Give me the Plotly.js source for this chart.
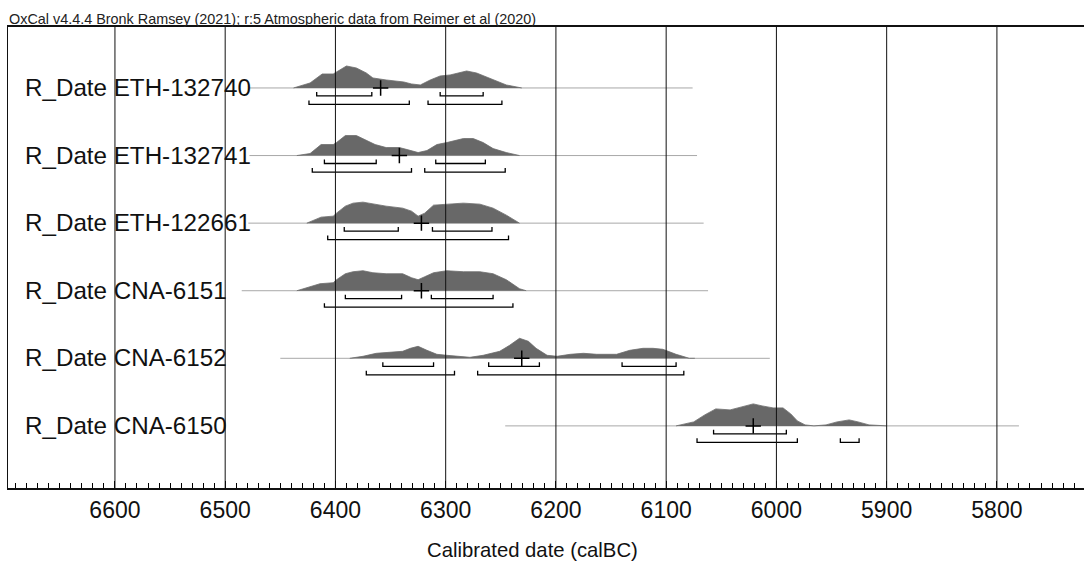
<!DOCTYPE html>
<html><head><meta charset="utf-8">
<script src="https://cdn.plot.ly/plotly-3.0.1.min.js"></script>
<style>html,body{margin:0;padding:0;background:#fff}#chart{width:1084px;height:562px}</style>
</head><body><div id="chart"></div>
<script>
// ---------- data ----------
const headerText = "OxCal v4.4.4 Bronk Ramsey (2021); r:5 Atmospheric data from Reimer et al (2020)";
const axisTitle = "Calibrated date (calBC)";
const sampleNames = ["R_Date ETH-132740", "R_Date ETH-132741", "R_Date ETH-122661",
                     "R_Date CNA-6151", "R_Date CNA-6152", "R_Date CNA-6150"];
const yearTicks = [6600, 6500, 6400, 6300, 6200, 6100, 6000, 5900, 5800];
const yearRange = [6697, 5721];

// median cross (calBC)
const medians = [6359, 6342, 6322, 6322, 6231, 6021];
// extent of the thin likelihood line
const lineFrom = [6478, 6478, 6479, 6485, 6450, 6246];
const lineTo   = [6076, 6072, 6066, 6062, 6006, 5780];
// 68.2% and 95.4% ranges
const range68 = [
  [[6417, 6367], [6305, 6266]],
  [[6410, 6363], [6309, 6264]],
  [[6392, 6343], [6312, 6258]],
  [[6391, 6340], [6313, 6257]],
  [[6357, 6311], [6261, 6215], [6140, 6091]],
  [[6057, 5991]]
];
const range95 = [
  [[6424, 6333], [6316, 6249]],
  [[6421, 6331], [6319, 6246]],
  [[6407, 6243]],
  [[6410, 6239]],
  [[6372, 6292], [6271, 6084]],
  [[6072, 5981], [5942, 5925]]
];

// calibrated probability distributions (relative)
const eth132740Years = [6438,6423,6412,6402,6390,6381,6372,6366,6354,6338,6331,6323,6314,6305,6296,6281,6272,6257,6245,6231];
const eth132740Prob  = [0,5,14,14,22,20,15,10,8,6,4,3,8,12,13,17,15,8,3,0];
const eth132741Years = [6435,6423,6413,6402,6399,6391,6381,6372,6364,6354,6342,6335,6325,6317,6308,6299,6284,6275,6266,6257,6245,6233];
const eth132741Prob  = [0,2,11,11,13,20,20,15,11,8,8,6,3,5,11,13,17,17,13,7,3,0];
const eth122661Years = [6426,6413,6402,6399,6391,6384,6375,6366,6354,6339,6331,6325,6319,6311,6299,6284,6269,6257,6245,6233];
const eth122661Prob  = [0,6,7,10,17,20,21,19,17,15,12,7,10,18,19,20,19,15,8,0];
const cna6151Years = [6435,6423,6414,6402,6399,6391,6384,6375,6366,6354,6339,6331,6325,6319,6311,6299,6284,6269,6257,6245,6233,6227];
const cna6151Prob  = [0,4,7,8,11,17,19,20,18,17,17,13,11,14,18,20,19,19,17,11,2,0];
const cna6152Years = [6387,6375,6363,6345,6339,6332,6325,6317,6308,6299,6290,6278,6266,6251,6242,6233,6225,6218,6208,6199,6187,6175,6163,6145,6133,6121,6112,6103,6091,6079,6074];
const cna6152Prob  = [0,2,5,6,7,10,12,8,4,3,2,1,3,7,13,20,17,10,3,2,4,5,4,4,8,10,10,9,4,0,0];
const cna6150Years = [6091,6075,6065,6055,6042,6029,6021,6013,6003,5994,5987,5981,5974,5966,5955,5945,5934,5926,5916,5900];
const cna6150Prob  = [0,4,11,17,16,20,22,20,18,18,12,5,1,0,1,4,6,4,1,0];

const densYears = [eth132740Years, eth132741Years, eth122661Years, cna6151Years, cna6152Years, cna6150Years];
const densProb  = [eth132740Prob, eth132741Prob, eth122661Prob, cna6151Prob, cna6152Prob, cna6150Prob];

// ---------- drawing ----------
const FONT = 'Liberation Sans, Arial, Helvetica, sans-serif';
const probScale = 1 / 67.6;     // relative probability -> row units
const off68 = 0.118, off95 = 0.244, tickH = 0.06;
const nRows = sampleNames.length;
const rowY = i => nRows - 1 - i;

const traces = [];
sampleNames.forEach((name, i) => {
  const r = rowY(i);
  traces.push({type:'scatter', mode:'lines', x:[lineFrom[i], lineTo[i]], y:[r, r],
    line:{color:'#a8a8a8', width:1}, hoverinfo:'skip'});
  traces.push({type:'scatter', mode:'lines', x:densYears[i], y:densProb[i].map(p => r + p*probScale),
    fill:'toself', fillcolor:'#686868', line:{color:'#6c6c6c', width:0.8}, hoverinfo:'skip'});
  [[range68[i], off68], [range95[i], off95]].forEach(([ranges, off]) => {
    const bx = [], by = [];
    ranges.forEach(([a, b]) => {
      bx.push(a, a, b, b, null);
      by.push(r - off + tickH, r - off, r - off, r - off + tickH, null);
    });
    traces.push({type:'scatter', mode:'lines', x:bx, y:by, line:{color:'#000', width:1.3}, hoverinfo:'skip'});
  });
  traces.push({type:'scatter', mode:'markers', x:[medians[i]], y:[r],
    marker:{symbol:'cross-thin', size:11, line:{color:'#000', width:1.5}}, hoverinfo:'skip'});
});

const shapes = yearTicks.map(v => ({type:'line', xref:'x', yref:'paper', x0:v, x1:v, y0:0, y1:1,
  line:{color:'#111', width:1}, layer:'above'}));

const annotations = [
  {text: headerText, xref:'paper', yref:'paper', x:0, y:1, xanchor:'left', yanchor:'bottom',
   showarrow:false, font:{family:FONT, size:14.4, color:'#222'}, yshift:-2, xshift:-1},
  {text: axisTitle, xref:'paper', yref:'paper', x:0.487, y:-0.1345, xanchor:'center', yanchor:'middle',
   showarrow:false, font:{family:FONT, size:20.3, color:'#111'}}
];
sampleNames.forEach((name, i) => {
  annotations.push({text:name, xref:'paper', yref:'y', x:0.0140, y:rowY(i), xanchor:'left', yanchor:'middle',
    yshift:0.5, showarrow:false, font:{family:FONT, size:24.2, color:'#111'}});
});

const layout = {
  width:1084, height:562,
  margin:{l:8, r:0, t:27, b:74, pad:0},
  paper_bgcolor:'#fff', plot_bgcolor:'#fff', showlegend:false,
  font:{family:FONT, color:'#111'},
  xaxis:{range:yearRange, tickmode:'array', tickvals:yearTicks, ticktext:yearTicks.map(String),
    ticks:'inside', ticklen:7, tickwidth:1, tickcolor:'#000',
    showgrid:false, zeroline:false, showline:true, linecolor:'#111', linewidth:2, mirror:true,
    tickfont:{family:FONT, size:23, color:'#111'},
    minor:{tickmode:'linear', tick0:0, dtick:10, ticks:'inside', ticklen:5, tickwidth:1, tickcolor:'#000', showgrid:false},
    fixedrange:true},
  yaxis:{range:[-0.919, 5.902], showgrid:false, zeroline:false, showticklabels:false, ticks:'',
    showline:true, linecolor:'#111', linewidth:1, fixedrange:true},
  shapes, annotations
};

Plotly.newPlot('chart', traces, layout, {displayModeBar:false, staticPlot:true});
</script></body></html>
